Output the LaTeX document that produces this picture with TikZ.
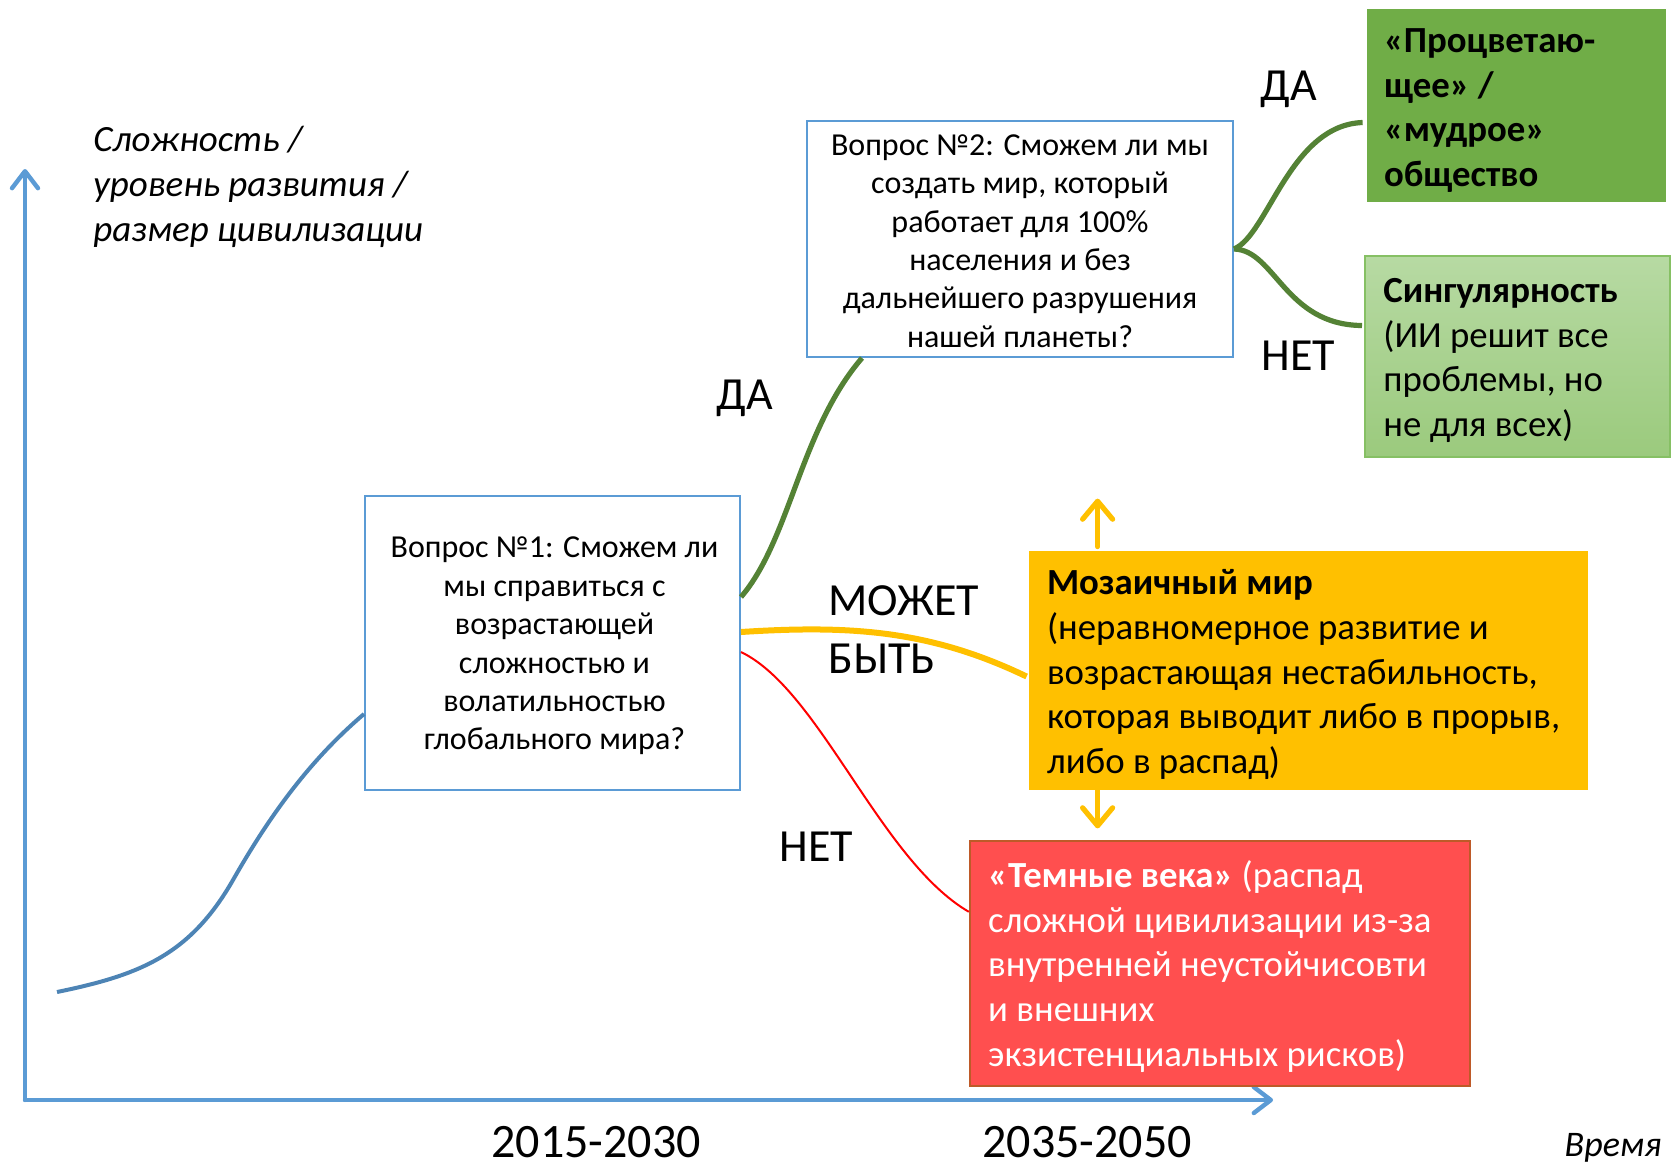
\documentclass[tikz,border=0pt]{standalone}
\usepackage{fontspec}
\setmainfont{Carlito}
\usetikzlibrary{arrows.meta,calc}
\definecolor{axblue}{HTML}{5B9BD5}
\definecolor{dgreen}{HTML}{548235}
\definecolor{mgreen}{HTML}{70AD47}
\definecolor{lgreenT}{HTML}{B7DAA3}
\definecolor{lgreenB}{HTML}{9BCA7D}
\definecolor{lgreenD}{HTML}{86C064}
\definecolor{ygold}{HTML}{FFC000}
\definecolor{rfill}{HTML}{FF4F4F}
\definecolor{rborder}{HTML}{BE5A28}
\begin{document}
\begin{tikzpicture}[x=0.5pt,y=-0.5pt,
  qbox/.style={draw=axblue, line width=1pt, fill=white, inner sep=0pt},
  qtext/.style={align=center, inner sep=0pt, font=\fontsize{16}{19.2}\selectfont},
  outtext/.style={align=left, inner sep=0pt, anchor=west,
    font=\fontsize{18.4}{22.4}\selectfont},
  biglbl/.style={font=\fontsize{23}{27}\selectfont, inner sep=0pt},
  yearlbl/.style={font=\fontsize{24}{28}\selectfont, inner sep=0pt},
  axisline/.style={axblue, line width=2.2pt, line cap=round,
    -{Straight Barb[length=8.5pt,width=13pt,line cap=round,line join=round]}},
  greenline/.style={dgreen, line width=2.6pt},
  goldline/.style={ygold, line width=3pt},
  goldarrow/.style={ygold, line width=2.6pt, line cap=round,
    -{Straight Barb[length=9pt,width=15pt,line cap=round,line join=round]}},
  redline/.style={red, line width=1pt},
  bluecurve/.style={axblue!85!black, line width=2pt}
]
\useasboundingbox (0,0) rectangle (1675,1168);

% axes
\coordinate (O) at (25,1100);
\coordinate (ytop) at (25,169);
\coordinate (xend) at (1273,1100);
\draw[axisline] (O) -- (ytop);
\draw[axisline] (O) -- (xend);

\node[align=left, anchor=west, inner sep=0pt, font=\itshape\fontsize{18.5}{22.5}\selectfont]
  (ylabel) at (93,187) {Сложность /\\уровень развития /\\размер цивилизации};
\node[yearlbl] (y1) at (596,1142) {2015-2030};
\node[yearlbl] (y2) at (1087,1142) {2035-2050};
\node[inner sep=0pt, font=\itshape\fontsize{18}{22}\selectfont] (time) at (1613,1148) {Время};

% question boxes
\node[qbox, minimum width=187.5pt, minimum height=147pt] (b1) at (552.5,643) {};
\node[qtext] (b1t) at ($(b1.center)+(2,3)$)
  {Вопрос №1: Сможем ли\\мы справиться с\\возрастающей\\сложностью и\\волатильностью\\глобального мира?};
\node[qbox, minimum width=213pt, minimum height=118pt] (b2) at (1020,239) {};
\node[qtext] (b2t) at ($(b2.center)+(0,2)$)
  {Вопрос №2: Сможем ли мы\\создать мир, который\\работает для 100\%\\населения и без\\дальнейшего разрушения\\нашей планеты?};

% outcome boxes
\node[fill=ygold, minimum width=279.5pt, minimum height=119.5pt, inner sep=0pt] (m) at (1308.5,670.5) {};
\node[outtext] (mt) at ($(m.west)+(18,4)$)
  {\textbf{Мозаичный мир}\\(неравномерное развитие и\\возрастающая нестабильность,\\которая выводит либо в прорыв,\\либо в распад)};

\node[fill=rfill, draw=rborder, line width=1.2pt, minimum width=250pt, minimum height=122.5pt, inner sep=0pt] (r) at (1220,963.5) {};
\node[outtext, text=white] (rt) at ($(r.west)+(19,3)$)
  {\textbf{«Темные века»} (распад\\сложной цивилизации из-за\\внутренней неустойчисовти\\и внешних\\экзистенциальных рисков)};

\node[fill=mgreen, minimum width=149.5pt, minimum height=96.5pt, inner sep=0pt] (g) at (1516.5,105.5) {};
\node[outtext, font=\bfseries\fontsize{18.4}{22.4}\selectfont] (gt) at ($(g.west)+(17,5)$)
  {«Процветаю-\\щее» /\\«мудрое»\\общество};

\node[top color=lgreenT, bottom color=lgreenB, draw=lgreenD, line width=1pt, minimum width=152.5pt, minimum height=100.5pt, inner sep=0pt] (lg) at (1517.5,356.5) {};
\node[outtext] (lgt) at ($(lg.west)+(19,4)$)
  {\textbf{Сингулярность}\\(ИИ решит все\\проблемы, но\\не для всех)};

% connectors
\draw[bluecurve] (57,992) .. controls (140,975) and (190,955) .. (233,880)
  .. controls (270,815) and (310,760) .. ($(b1.west)+(0,71)$);
\draw[greenline] ($(b1.east)+(0,-46)$) .. controls (790,540) and (800,430) .. ($(b2.south west)+(56,0)$);
\draw[goldline] ($(b1.east)+(0,-11)$) .. controls (850,625) and (930,630) .. ($(m.west)+(-2,6)$);
\draw[redline] ($(b1.east)+(0,9)$) .. controls (820,690) and (880,860) .. ($(r.north west)+(0,72)$);
\draw[greenline] ($(b2.east)+(0,10)$) .. controls (1268,235) and (1290,125) .. ($(g.west)+(-4,17)$);
\draw[greenline] ($(b2.east)+(0,10)$) .. controls (1275,250) and (1285,325) .. ($(lg.west)+(-2,-31)$);
\draw[goldarrow] ($(m.north west)+(69,-4)$) -- ($(m.north west)+(69,-52)$);
\draw[goldarrow] ($(m.south west)+(69,0)$) -- ($(m.south west)+(69,38)$);

% branch labels
\node[biglbl] (da1) at (745,398) {ДА};
\node[biglbl, align=left, anchor=west, font=\fontsize{23}{29}\selectfont] (maybe) at (828,630) {МОЖЕТ\\БЫТЬ};
\node[biglbl] (net1) at (816,847) {НЕТ};
\node[biglbl] (da2) at (1289,89) {ДА};
\node[biglbl] (net2) at (1298,356) {НЕТ};
\end{tikzpicture}
\end{document}
